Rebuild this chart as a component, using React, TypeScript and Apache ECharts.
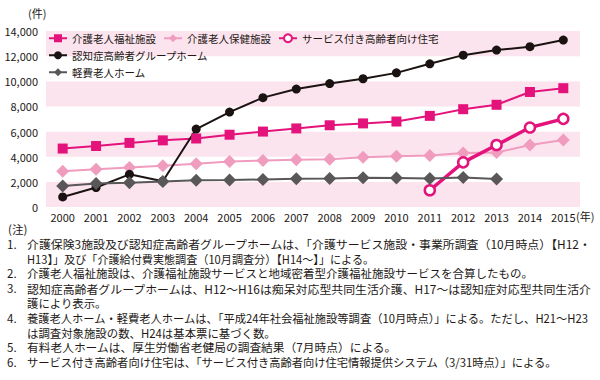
import React, { useEffect, useRef } from "react";
import * as echarts from "echarts";

const years = ["2000","2001","2002","2003","2004","2005","2006","2007","2008","2009","2010","2011","2012","2013","2014","2015"];
const fukushi = [4650, 4850, 5100, 5300, 5450, 5750, 6000, 6250, 6500, 6650, 6800, 7250, 7780, 8130, 9150, 9450];
const hoken = [2850, 3000, 3150, 3280, 3450, 3620, 3700, 3750, 3800, 3950, 4030, 4100, 4300, 4330, 4930, 5330];
const sakoju = [null, null, null, null, null, null, null, null, null, null, null, 1330, 3550, 4930, 6320, 7010];
const groupHome = [800, 1550, 2600, 2050, 6200, 7550, 8700, 9380, 9820, 10200, 10670, 11390, 12080, 12480, 12750, 13280];
const keihi = [1680, 1870, 1920, 2030, 2130, 2140, 2190, 2240, 2270, 2320, 2300, 2270, 2350, 2220, null, null];
const names = ["介護老人福祉施設", "介護老人保健施設", "サービス付き高齢者向け住宅", "認知症高齢者グループホーム", "軽費老人ホーム"];
const noteNums = ["(注)", "1.", "", "2.", "3.", "", "4.", "", "5.", "6."];
const noteTexts = [
  "",
  "介護保険3施設及び認知症高齢者グループホームは、「介護サービス施設・事業所調査（10月時点）【H12・",
  "H13】」及び「介護給付費実態調査（10月調査分）【H14～】」による。",
  "介護老人福祉施設は、介護福祉施設サービスと地域密着型介護福祉施設サービスを合算したもの。",
  "認知症高齢者グループホームは、H12～H16は痴呆対応型共同生活介護、H17～は認知症対応型共同生活介",
  "護により表示。",
  "養護老人ホーム・軽費老人ホームは、「平成24年社会福祉施設等調査（10月時点）」による。ただし、H21～H23",
  "は調査対象施設の数、H24は基本票に基づく数。",
  "有料老人ホームは、厚生労働省老健局の調査結果（7月時点）による。",
  "サービス付き高齢者向け住宅は、「サービス付き高齢者向け住宅情報提供システム（3/31時点）」による。",
];
// right edge (px) of each note line in the reference (0 = natural width)
const noteEnds = [0, 593, 375, 533, 593, 0, 590, 0, 397, 558];

const FONT = "'Noto Sans CJK JP', 'Noto Sans', sans-serif";
const NOTE_FONT = `11.5px ${FONT}`;

export default function App() {
  const ref = useRef<HTMLDivElement>(null);
  useEffect(() => {
    const chart = echarts.init(ref.current!, null, { renderer: "svg" });
    const ctx = document.createElement("canvas").getContext("2d")!;
    ctx.font = NOTE_FONT;
    const natural = [2, 3, 8, 9].map((i) => (noteEnds[i] - 27) / ctx.measureText(noteTexts[i]).width);
    const avgScale = natural.reduce((a, b) => a + b, 0) / natural.length;
    const noteGraphics: any[] = [];
    noteNums.forEach((num, i) => {
      const y = 229 + i * 14.8;
      if (num) noteGraphics.push({ type: "text", x: i === 0 ? 8 : 7, y, style: { text: num, font: NOTE_FONT, fill: "#231815", verticalAlign: "middle" } });
      const t = noteTexts[i];
      if (t) {
        const w = ctx.measureText(t).width;
        const sx = noteEnds[i] ? (noteEnds[i] - 27) / w : avgScale;
        noteGraphics.push({ type: "text", x: 27, y, scaleX: sx, style: { text: t, font: NOTE_FONT, fill: "#231815", verticalAlign: "middle" } });
      }
    });
    const legendText = { fontSize: 10.5, color: "#231815", fontFamily: FONT };
    chart.setOption({
      animation: false,
      textStyle: { fontFamily: FONT },
      grid: { left: 46, right: 20, top: 31, bottom: 173, containLabel: false },
      legend: [
        { data: [names[0], names[1], names[2]], left: 48, top: 33, itemWidth: 18, itemHeight: 10, itemGap: 7, textStyle: legendText, padding: 0 },
        { data: [names[3]], left: 48, top: 50, itemWidth: 18, itemHeight: 10, textStyle: legendText, padding: 0 },
        { data: [names[4]], left: 48, top: 67, itemWidth: 18, itemHeight: 10, textStyle: legendText, padding: 0 },
      ],
      xAxis: {
        type: "category",
        data: years,
        boundaryGap: true,
        axisLine: { show: false },
        axisTick: { show: false },
        axisLabel: { fontSize: 11, color: "#231815", margin: 4 },
      },
      yAxis: {
        type: "value",
        min: 0,
        max: 14000,
        interval: 2000,
        axisLine: { show: false },
        axisTick: { show: false },
        splitLine: { show: false },
        splitArea: { show: true, areaStyle: { color: ["#fce4ee", "#ffffff"] } },
        axisLabel: {
          fontSize: 11,
          color: "#231815",
          margin: 8,
          formatter: (v: number) => v.toLocaleString("en-US"),
        },
      },
      graphic: [
        { type: "text", left: 28, top: 7, style: { text: "(件)", font: `11px ${FONT}`, fill: "#231815" } },
        { type: "text", x: 576, y: 216, style: { text: "(年)", font: `11px ${FONT}`, fill: "#231815", verticalAlign: "middle" } },
        ...noteGraphics,
      ],
      series: [
        {
          name: names[0], type: "line", data: fukushi, symbol: "rect", symbolSize: 10,
          lineStyle: { color: "#e4127b", width: 2 }, itemStyle: { color: "#e4127b" },
        },
        {
          name: names[1], type: "line", data: hoken, symbol: "diamond", symbolSize: 13,
          lineStyle: { color: "#f09cbf", width: 2 }, itemStyle: { color: "#f09cbf" },
        },
        {
          name: names[2], type: "line", data: sakoju, symbol: "circle", symbolSize: 10,
          lineStyle: { color: "#e4127b", width: 3.5 }, itemStyle: { color: "#ffffff", borderColor: "#e4127b", borderWidth: 2.5 },
        },
        {
          name: names[3], type: "line", data: groupHome, symbol: "circle", symbolSize: 9,
          lineStyle: { color: "#1a1311", width: 2 }, itemStyle: { color: "#1a1311" },
        },
        {
          name: names[4], type: "line", data: keihi, symbol: "diamond", symbolSize: 13,
          lineStyle: { color: "#595757", width: 2 }, itemStyle: { color: "#595757" },
        },
      ],
    });
    return () => chart.dispose();
  }, []);
  return <div ref={ref} style={{ width: 600, height: 380, position: "absolute", left: 0, top: 0, background: "#fff" }} />;
}
